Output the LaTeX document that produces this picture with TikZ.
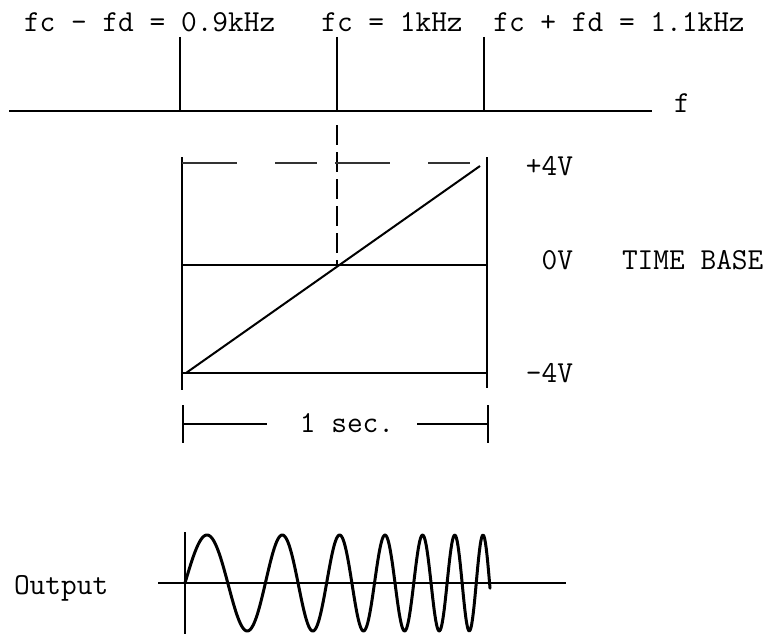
\documentclass[tikz,border=0pt]{standalone}
\begin{document}
\begin{tikzpicture}[x=1pt,y=-1pt,line width=2pt,
  lbl/.style={font=\fontsize{30.5}{36}\selectfont\ttfamily,inner sep=0pt},
  faint/.style={line width=1.3pt,black!80,dash pattern=on 55pt off 38pt on 42pt off 18pt},
  vdash/.style={line width=2pt,dash pattern=on 20pt off 7pt},
  wave/.style={line width=3pt,line join=round,line cap=round}]
\useasboundingbox (0,0) rectangle (768,634);
% ---- spectrum ----
\coordinate (axL) at (9,111);
\coordinate (axR) at (652,111);
\coordinate (s1t) at (180,37);  \coordinate (s1b) at (180,111);
\coordinate (s2t) at (337,37);  \coordinate (s2b) at (337,111);
\coordinate (s3t) at (484,37);  \coordinate (s3b) at (484,111);
\draw (axL) -- (axR);
\draw (s1t) -- (s1b);
\draw (s2t) -- (s2b);
\draw (s3t) -- (s3b);
\node[lbl,anchor=base west] (l1) at (23,32) {fc - fd = 0.9kHz};
\node[lbl,anchor=base] (l2) at (392,32) {fc = 1kHz};
\node[lbl,anchor=base] (l3) at (619,32) {fc + fd = 1.1kHz};
\node[lbl,anchor=base] (fl) at (682,112) {f};
% ---- time base ----
\coordinate (dTop) at (337,125);
\coordinate (zero) at (337,265);
\draw[vdash] (dTop) -- (zero);
\coordinate (bTL) at (182,157); \coordinate (bBL) at (182,390);
\coordinate (bTR) at (487,157); \coordinate (bBR) at (487,388);
\draw (bTL) -- (bBL);
\draw (bTR) -- (bBR);
\coordinate (pL) at (182,163); \coordinate (pR) at (487,163);
\coordinate (mL) at (182,265); \coordinate (mR) at (487,265);
\coordinate (nL) at (182,373); \coordinate (nR) at (487,373);
\draw[faint] (pL) -- (pR);
\draw (mL) -- (mR);
\draw (nL) -- (nR);
\coordinate (rS) at (186,373);
\coordinate (rE) at (480,166);
\draw (rS) -- (rE);
\node[lbl,anchor=base east] (vp) at (574,175) {+4V};
\node[lbl,anchor=base east] (v0) at (574,269) {0V};
\node[lbl,anchor=base east] (vm) at (574,382) {-4V};
\node[lbl,anchor=base west] (tb) at (621,269) {TIME BASE};
% ---- 1 sec dimension ----
\coordinate (tL1) at (183,405); \coordinate (tL2) at (183,443);
\coordinate (tR1) at (488,405); \coordinate (tR2) at (488,443);
\coordinate (hL1) at (183,424); \coordinate (hL2) at (267,424);
\coordinate (hR1) at (417,424); \coordinate (hR2) at (488,424);
\draw (tL1) -- (tL2);
\draw (tR1) -- (tR2);
\draw (hL1) -- (hL2);
\draw (hR1) -- (hR2);
\node[lbl,anchor=base] (sec) at (347,432) {1 sec.};
% ---- output ----
\node[lbl,anchor=base west] (out) at (13,594) {Output};
\coordinate (oL) at (158,583);
\coordinate (oR) at (566,583);
\coordinate (ovT) at (185,532);
\coordinate (ovB) at (185,634);
\draw (oL) -- (oR);
\draw (ovT) -- (ovB);
\draw[wave] plot[domain=0:3.055,samples=400]
  ({185+100*\x},{583-48*sin(360*(1.10902*\x+0.10767*\x*\x+0.07516*\x*\x*\x))});
\end{tikzpicture}
\end{document}
